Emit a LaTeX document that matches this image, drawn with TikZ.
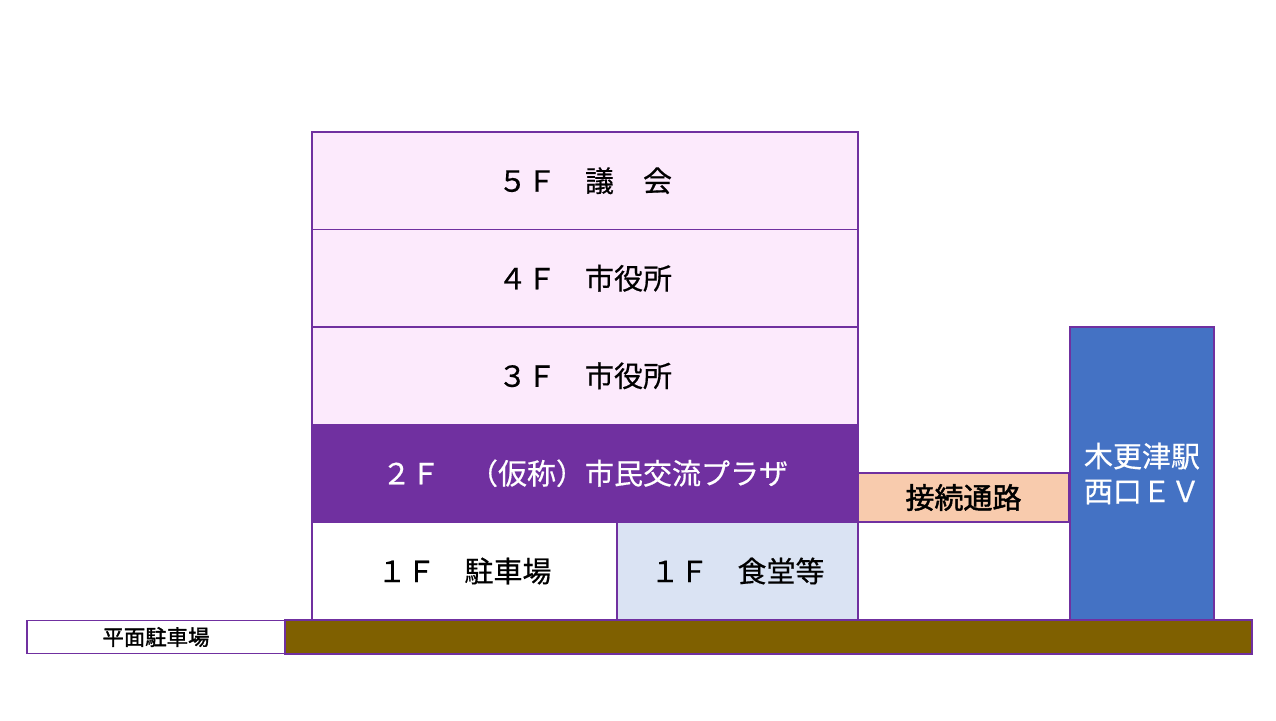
\documentclass[tikz,border=0pt]{standalone}
\usepackage{fontspec}
\usepackage{tikz}
\usetikzlibrary{positioning}
\newfontfamily\jpfont{Noto Sans CJK JP}[BoldFont={Noto Sans CJK JP}, BoldFeatures={FakeBold=0.5}]
\newfontfamily\jpheavy{Noto Sans CJK JP}[BoldFont={Noto Sans CJK JP}, BoldFeatures={FakeBold=1.6}]
\definecolor{edgePurple}{HTML}{7030A0}
\definecolor{floorPink}{HTML}{FCEAFC}
\definecolor{plazaPurple}{HTML}{7030A0}
\definecolor{diningBlue}{HTML}{DAE3F3}
\definecolor{linkPeach}{HTML}{F8CBAD}
\definecolor{evBlue}{HTML}{4472C4}
\definecolor{groundBrown}{HTML}{7F6000}
\newcommand{\floorFont}[0]{\jpfont\bfseries\fontsize{14.5}{17.5}\selectfont}

\begin{document}
\begin{tikzpicture}[x=0.5pt, y=-0.5pt]
  \tikzset{box/.style={draw=edgePurple, line width=0.8pt, outer sep=0pt, inner sep=0pt, align=center},
           floor/.style={box, fill=floorPink, minimum width=273pt, minimum height=48.75pt, font=\floorFont},
           ground floor/.style={box, minimum height=49pt, font=\floorFont}}
  \useasboundingbox (0,0) rectangle (1276,720);
  \node[floor, anchor=north west] (f5) at (312,132) {５Ｆ　議　会};
  \node[floor, below=0pt of f5] (f4) {４Ｆ　市役所};
  \node[floor, below=0pt of f4] (f3) {３Ｆ　市役所};
  \node[floor, below=0pt of f3, fill=plazaPurple, text=white] (f2) {２Ｆ　（仮称）市民交流プラザ};
  \node[ground floor, below right=0pt and 0pt of f2.south west, fill=white, minimum width=152.5pt] (parking) {１Ｆ　駐車場};
  \node[ground floor, right=0pt of parking, fill=diningBlue, minimum width=120.5pt] (dining) {１Ｆ　食堂等};
  \node[box, above right=0pt and 0pt of f2.south east, fill=linkPeach, minimum width=105.5pt, minimum height=24.5pt,
        font=\jpheavy\bfseries\fontsize{14.5}{17.5}\selectfont] (link) {接続通路};
  \node[box, anchor=north west, fill=groundBrown, minimum width=483.5pt, minimum height=17pt]
    (ground) at ([xshift=-13.5pt]parking.south west) {};
  \node[box, left=0pt of ground, fill=white, minimum width=129pt, minimum height=16.5pt,
        font=\jpheavy\bfseries\fontsize{10.7}{12}\selectfont] (flat) {平面駐車場};
  \node[box, anchor=south west, fill=evBlue, text=white, minimum width=72pt, minimum height=146.5pt,
        font=\floorFont] (ev) at ([xshift=0.5pt]link.south east |- ground.north) {木更津駅\\西口ＥＶ};
\end{tikzpicture}
\end{document}
